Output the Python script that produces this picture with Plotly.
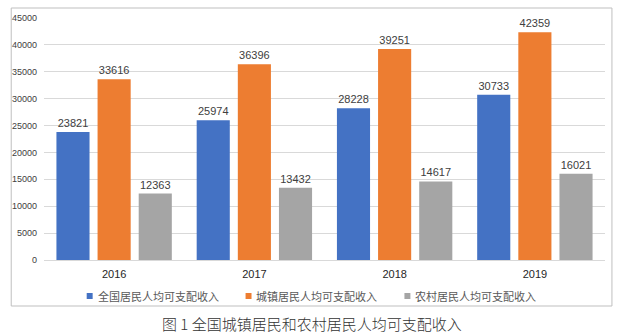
import plotly.graph_objects as go

years = ["2016", "2017", "2018", "2019"]
national = [23821, 25974, 28228, 30733]
urban = [33616, 36396, 39251, 42359]
rural = [12363, 13432, 14617, 16021]
names = ["全国居民人均可支配收入", "城镇居民人均可支配收入", "农村居民人均可支配收入"]
colors = ["#4472C4", "#ED7D31", "#A5A5A5"]
caption = "图 1 全国城镇居民和农村居民人均可支配收入"

fig = go.Figure()
for name, vals, col in zip(names, [national, urban, rural], colors):
    fig.add_trace(go.Bar(
        x=years, y=vals, name=name, marker=dict(color=col, line=dict(width=0)),
        text=[str(v) for v in vals], textposition="outside", cliponaxis=False,
        textfont=dict(size=11, color="#404040", family="Liberation Sans, Arial"),
        showlegend=False,
    ))

L, R, T, B = 40, 17, 18, 73
W, H = 622, 333
pw, ph = W - L - R, H - T - B

def px(x):
    return (x - L) / pw

def py(y):
    return (H - B - y) / ph

annotations = [dict(text=caption, xref="paper", yref="paper", x=px(310), y=py(323),
                    xanchor="center", yanchor="middle", showarrow=False,
                    font=dict(size=15, color="#333333", family="Noto Sans CJK SC", weight=300))]
shapes = [dict(type="rect", xref="paper", yref="paper",
               x0=px(7), x1=px(612), y0=py(306), y1=py(8),
               line=dict(color="#BFBFBF", width=1), layer="below")]

# custom legend
leg_x = [83, 243, 403]
for lx, name, col in zip(leg_x, names, colors):
    shapes.append(dict(type="rect", xref="paper", yref="paper",
                       x0=px(lx), x1=px(lx + 6), y0=py(299), y1=py(293),
                       line=dict(width=0), fillcolor=col))
    annotations.append(dict(text=name, xref="paper", yref="paper", x=px(lx + 9), y=py(296),
                            xanchor="left", yanchor="middle", showarrow=False,
                            font=dict(size=11, color="#595959", family="Noto Sans CJK SC")))

fig.update_layout(
    width=W, height=H,
    margin=dict(l=L, r=R, t=T, b=B),
    paper_bgcolor="white", plot_bgcolor="white",
    barmode="group", bargap=0.12, bargroupgap=0.195,
    font=dict(family="Liberation Sans, Arial", color="#404040"),
    xaxis=dict(showline=True, linecolor="#D9D9D9", linewidth=1, ticks="",
               tickfont=dict(size=11, color="#262626", family="Liberation Sans, Arial"),
               ticklabelstandoff=4),
    yaxis=dict(range=[0, 45000], dtick=5000, tickformat="d", showgrid=True,
               gridcolor="#D9D9D9", gridwidth=1, zeroline=False,
               tickfont=dict(size=9, color="#404040"), ticklabelstandoff=6),
    showlegend=False,
    shapes=shapes,
    annotations=annotations,
)

fig.write_html("out.html")
